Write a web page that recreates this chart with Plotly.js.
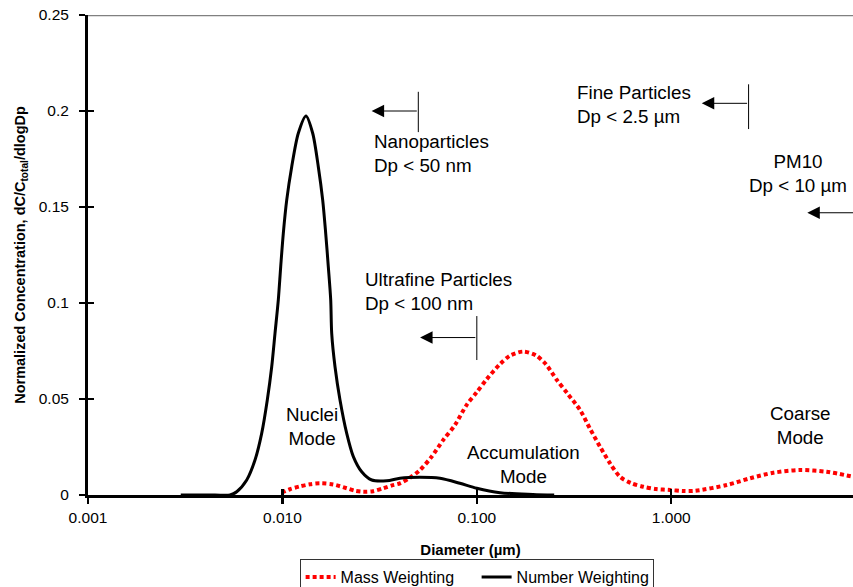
<!DOCTYPE html>
<html>
<head>
<meta charset="utf-8">
<script src="https://cdn.plot.ly/plotly-3.0.1.min.js"></script>
<style>html,body{margin:0;padding:0;background:#fff;}#chart{width:853px;height:587px;}</style>
</head>
<body>
<div id="chart"></div>
<script>
// Mass weighting (red dotted)
var massDiameter = [0.00992, 0.01094, 0.01231, 0.01387, 0.01561, 0.01822, 0.02142, 0.02363, 0.02608, 0.02925, 0.03305, 0.03664, 0.04026, 0.04533, 0.05101, 0.05812, 0.06724, 0.07723, 0.08872, 0.09988, 0.11243, 0.13160, 0.14821, 0.17343, 0.20155, 0.22699, 0.25763, 0.29447, 0.33961, 0.38221, 0.43015, 0.48439, 0.54514, 0.62116, 0.71860, 0.83521, 0.98583, 1.15, 1.3259, 1.930, 2.543, 3.352, 4.598, 6.307, 8.614];
var massValue    = [0.0012, 0.0030, 0.0045, 0.0056, 0.0061, 0.0055, 0.0035, 0.0022, 0.0017, 0.0020, 0.0035, 0.0050, 0.0061, 0.0090, 0.0130, 0.0195, 0.0287, 0.0365, 0.0470, 0.0535, 0.0603, 0.0682, 0.0726, 0.0747, 0.0727, 0.0680, 0.0600, 0.0525, 0.0443, 0.0345, 0.0252, 0.0165, 0.0095, 0.0062, 0.0043, 0.0031, 0.0026, 0.0021, 0.0022, 0.0052, 0.0087, 0.0116, 0.0130, 0.0121, 0.0095];

// Number weighting (black solid)
var numDiameter = [0.003, 0.0045, 0.005376, 0.005821, 0.006553, 0.007228, 0.007824, 0.008361, 0.008810, 0.009160, 0.009526, 0.009801, 0.010107, 0.010522, 0.011166, 0.012073, 0.013224, 0.014316, 0.015298, 0.016115, 0.016698, 0.017221, 0.017720, 0.017930, 0.018646, 0.019781, 0.021420, 0.023163, 0.025575, 0.028810, 0.034394, 0.04026, 0.05101, 0.06459, 0.08180, 0.0999, 0.1316, 0.1944, 0.25];
var numValue    = [0.0000, 0.0000, 0.0000, 0.0017, 0.0078, 0.0182, 0.0321, 0.0495, 0.0668, 0.0842, 0.1016, 0.1190, 0.1363, 0.1536, 0.1710, 0.1884, 0.1974, 0.1884, 0.1710, 0.1536, 0.1363, 0.1190, 0.1016, 0.0842, 0.0668, 0.0495, 0.0321, 0.0200, 0.0121, 0.0078, 0.0074, 0.0087, 0.0092, 0.0087, 0.0061, 0.0035, 0.0012, 0.0003, 0.0000];

// Axis ticks
var xTickVals = [0.001, 0.01, 0.1, 1];
var xTickText = ['0.001', '0.010', '0.100', '1.000'];
var yTickVals = [0, 0.05, 0.1, 0.15, 0.2, 0.25];
var yTickText = ['0', '0.05', '0.1', '0.15', '0.2', '0.25'];

var FONT = 'Arial, "Liberation Sans", sans-serif';
var L = Math.log10;

var traces = [
  {x: massDiameter, y: massValue, name: 'Mass Weighting', type: 'scatter', mode: 'lines',
   line: {color: '#ff0000', width: 4, dash: '4px,3px', shape: 'spline', smoothing: 0.8}, hoverinfo: 'x+y'},
  {x: numDiameter, y: numValue, name: 'Number Weighting', type: 'scatter', mode: 'lines',
   line: {color: '#000000', width: 3, shape: 'spline', smoothing: 0.8}, hoverinfo: 'x+y'},
  {x: [], y: [], xaxis: 'x2', yaxis: 'y2', showlegend: false, hoverinfo: 'skip', type: 'scatter', mode: 'lines'}
];

function txt(x, y, text, xanchor, align) {
  return {xref: 'x', yref: 'y', x: x, y: y, text: text, showarrow: false,
          xanchor: xanchor, yanchor: 'middle', align: align,
          font: {family: FONT, size: 18.8, color: '#000'}};
}
function arrow(xTail, xHead, y) {
  return {xref: 'x', yref: 'y', axref: 'x', ayref: 'y', x: xHead, y: y, ax: xTail, ay: y,
          text: '', showarrow: true, arrowhead: 2, arrowsize: 2.5, arrowwidth: 1, arrowcolor: '#000', standoff: 0, startstandoff: 0};
}
function vline(xData, y0, y1) {
  return {type: 'line', xref: 'x', yref: 'y', x0: xData, x1: xData, y0: y0, y1: y1,
          line: {color: '#000', width: 1}};
}

var annotations = [
  txt(-1.539, 0.1777, 'Nanoparticles<br>Dp &lt; 50 nm', 'left', 'left'),
  txt(-0.495, 0.2034, 'Fine Particles<br>Dp &lt; 2.5 µm', 'left', 'left'),
  txt(0.652, 0.1675, 'PM10<br>Dp &lt; 10 µm', 'center', 'center'),
  txt(-1.587, 0.1059, 'Ultrafine Particles<br>Dp &lt; 100 nm', 'left', 'left'),
  txt(-1.848, 0.0358, 'Nuclei<br>Mode', 'center', 'center'),
  txt(-0.762, 0.0160, 'Accumulation<br>Mode', 'center', 'center'),
  txt(0.663, 0.0360, 'Coarse<br>Mode', 'center', 'center'),
  arrow(L(0.05), -1.541, 0.2000),
  arrow(L(2.5), 0.157, 0.2040),
  arrow(1.0, 0.700, 0.1470),
  arrow(L(0.1), -1.292, 0.0820)
];

var layout = {
  width: 853, height: 587,
  margin: {l: 88, r: 0, t: 15, b: 92, pad: 0, autoexpand: false},
  paper_bgcolor: '#fff', plot_bgcolor: '#fff',
  font: {family: FONT, size: 15, color: '#000'},
  showlegend: true,
  legend: {orientation: 'h', x: 0.508, xanchor: 'center', y: -0.1333, yanchor: 'top',
           bordercolor: '#333', borderwidth: 1, bgcolor: '#fff', entrywidth: 131,
           font: {family: FONT, size: 16, color: '#000'}, traceorder: 'normal'},
  xaxis: {type: 'log', range: [-3, 0.935], tickvals: xTickVals, ticktext: xTickText,
          ticks: 'outside', ticklen: 6, tickwidth: 2.5, tickcolor: '#000',
          showline: true, linecolor: '#000', linewidth: 3, showgrid: false, zeroline: false,
          tickfont: {family: FONT, size: 15.5}, ticklabelstandoff: 0, automargin: false,
          title: {text: 'Diameter (µm)', font: {family: FONT, size: 15, weight: 'bold'}, standoff: 20}},
  yaxis: {range: [0, 0.25], tickvals: yTickVals, ticktext: yTickText,
          ticks: 'outside', ticklen: 6, tickwidth: 2.5, tickcolor: '#000',
          showline: true, linecolor: '#000', linewidth: 3, showgrid: false, zeroline: false,
          tickfont: {family: FONT, size: 15.5}, ticklabelstandoff: 7, automargin: false,
          title: {text: 'Normalized Concentration, dC/C<sub>total</sub>/dlogDp', font: {family: FONT, size: 14.5, weight: 'bold'}, standoff: 10}},
  xaxis2: {type: 'log', range: [-3, 0.935], overlaying: 'x', anchor: 'y', tickvals: xTickVals,
           ticks: 'inside', ticklen: 6, tickwidth: 2.5, tickcolor: '#000', showticklabels: false,
           showline: false, showgrid: false, zeroline: false},
  yaxis2: {range: [0, 0.25], overlaying: 'y', anchor: 'x', side: 'left', tickvals: yTickVals,
           ticks: 'inside', ticklen: 6, tickwidth: 2.5, tickcolor: '#000', showticklabels: false,
           showline: false, showgrid: false, zeroline: false},
  shapes: [
    {type: 'line', xref: 'paper', yref: 'y', x0: 0, x1: 1, y0: 0.25, y1: 0.25,
     line: {color: '#808080', width: 2.5}, layer: 'below'},
    vline(0.05, 0.2100, 0.1890),
    vline(2.5, 0.2139, 0.1906),
    vline(0.1, 0.0932, 0.0703)
  ],
  annotations: annotations
};

Plotly.newPlot('chart', traces, layout, {displayModeBar: false, staticPlot: true});
</script>
</body>
</html>
